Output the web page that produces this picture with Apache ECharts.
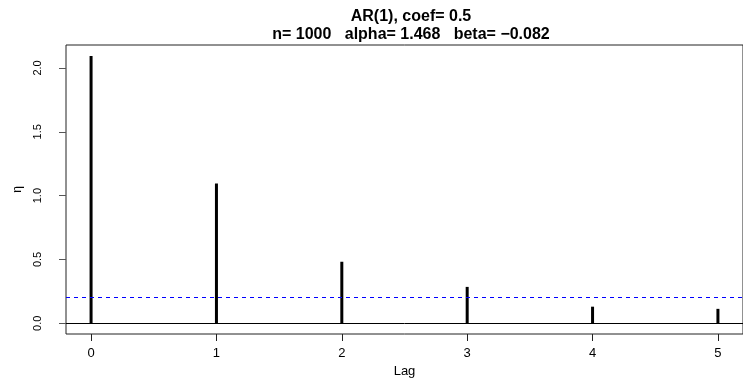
<!DOCTYPE html>
<html>
<head>
<meta charset="utf-8">
<script src="https://cdn.jsdelivr.net/npm/echarts@6/dist/echarts.min.js"></script>
<style>
  html, body { margin: 0; padding: 0; background: #fff; }
  #chart { width: 743px; height: 383px; }
</style>
</head>
<body>
<div id="chart"></div>
<script>
// lag values and the eta estimate at each lag
const lags = [0, 1, 2, 3, 4, 5]
const eta = [2.093, 1.095, 0.482, 0.285, 0.130, 0.113]
const threshold = 0.197
const xTicks = [0, 1, 2, 3, 4, 5]
const yTicks = [0, 0.5, 1, 1.5, 2]
const titleLines = ['AR(1), coef= 0.5', 'n= 1000   alpha= 1.468   beta= \u22120.082']

const font = 'Liberation Sans, Arial, Helvetica, sans-serif'
const chart = echarts.init(document.getElementById('chart'))

const option = {
  animation: false,
  title: {
    text: titleLines.join('\n'),
    left: 406,
    top: 3,
    textAlign: 'center',
    textStyle: { fontFamily: font, fontSize: 16, fontWeight: 'bold', color: '#000', lineHeight: 18 },
  },
  grid: { left: 66, top: 45, width: 681, height: 301, show: true, borderColor: '#222', borderWidth: 1, containLabel: false },
  xAxis: {
    type: 'value',
    min: -0.2,
    max: 5.2,
    name: 'Lag',
    nameLocation: 'middle',
    nameGap: 31,
    nameTextStyle: { fontFamily: font, fontSize: 13, color: '#000' },
    axisLine: { show: false, onZero: false },
    axisTick: { show: true, length: 7, lineStyle: { color: '#222' }, customValues: xTicks },
    axisLabel: { fontFamily: font, fontSize: 13, color: '#000', margin: 13, customValues: xTicks, formatter: v => String(v) },
    splitLine: { show: false },
  },
  yAxis: {
    type: 'value',
    min: -0.084,
    max: 2.18,
    name: '\u03b7',
    nameLocation: 'middle',
    nameRotate: 90,
    nameGap: 36,
    nameTextStyle: { fontFamily: font, fontSize: 12, color: '#000' },
    axisLine: { show: false, onZero: false },
    axisTick: { show: true, length: 7, lineStyle: { color: '#555' }, customValues: yTicks },
    axisLabel: { fontFamily: font, fontSize: 11, color: '#000', rotate: 90, margin: 23, customValues: yTicks, formatter: v => v.toFixed(1) },
    splitLine: { show: false },
  },
  series: [
    {
      type: 'bar',
      data: lags.map((l, i) => [l, eta[i]]),
      barWidth: 3,
      itemStyle: { color: '#000' },
      markLine: {
        silent: true,
        symbol: 'none',
        label: { show: false },
        data: [
          { yAxis: 0, lineStyle: { color: '#000', width: 1, type: 'solid' } },
          { yAxis: threshold, lineStyle: { color: '#0000ff', width: 1, type: [4, 4] } },
        ],
      },
    },
  ],
}

chart.setOption(option)
</script>
</body>
</html>
